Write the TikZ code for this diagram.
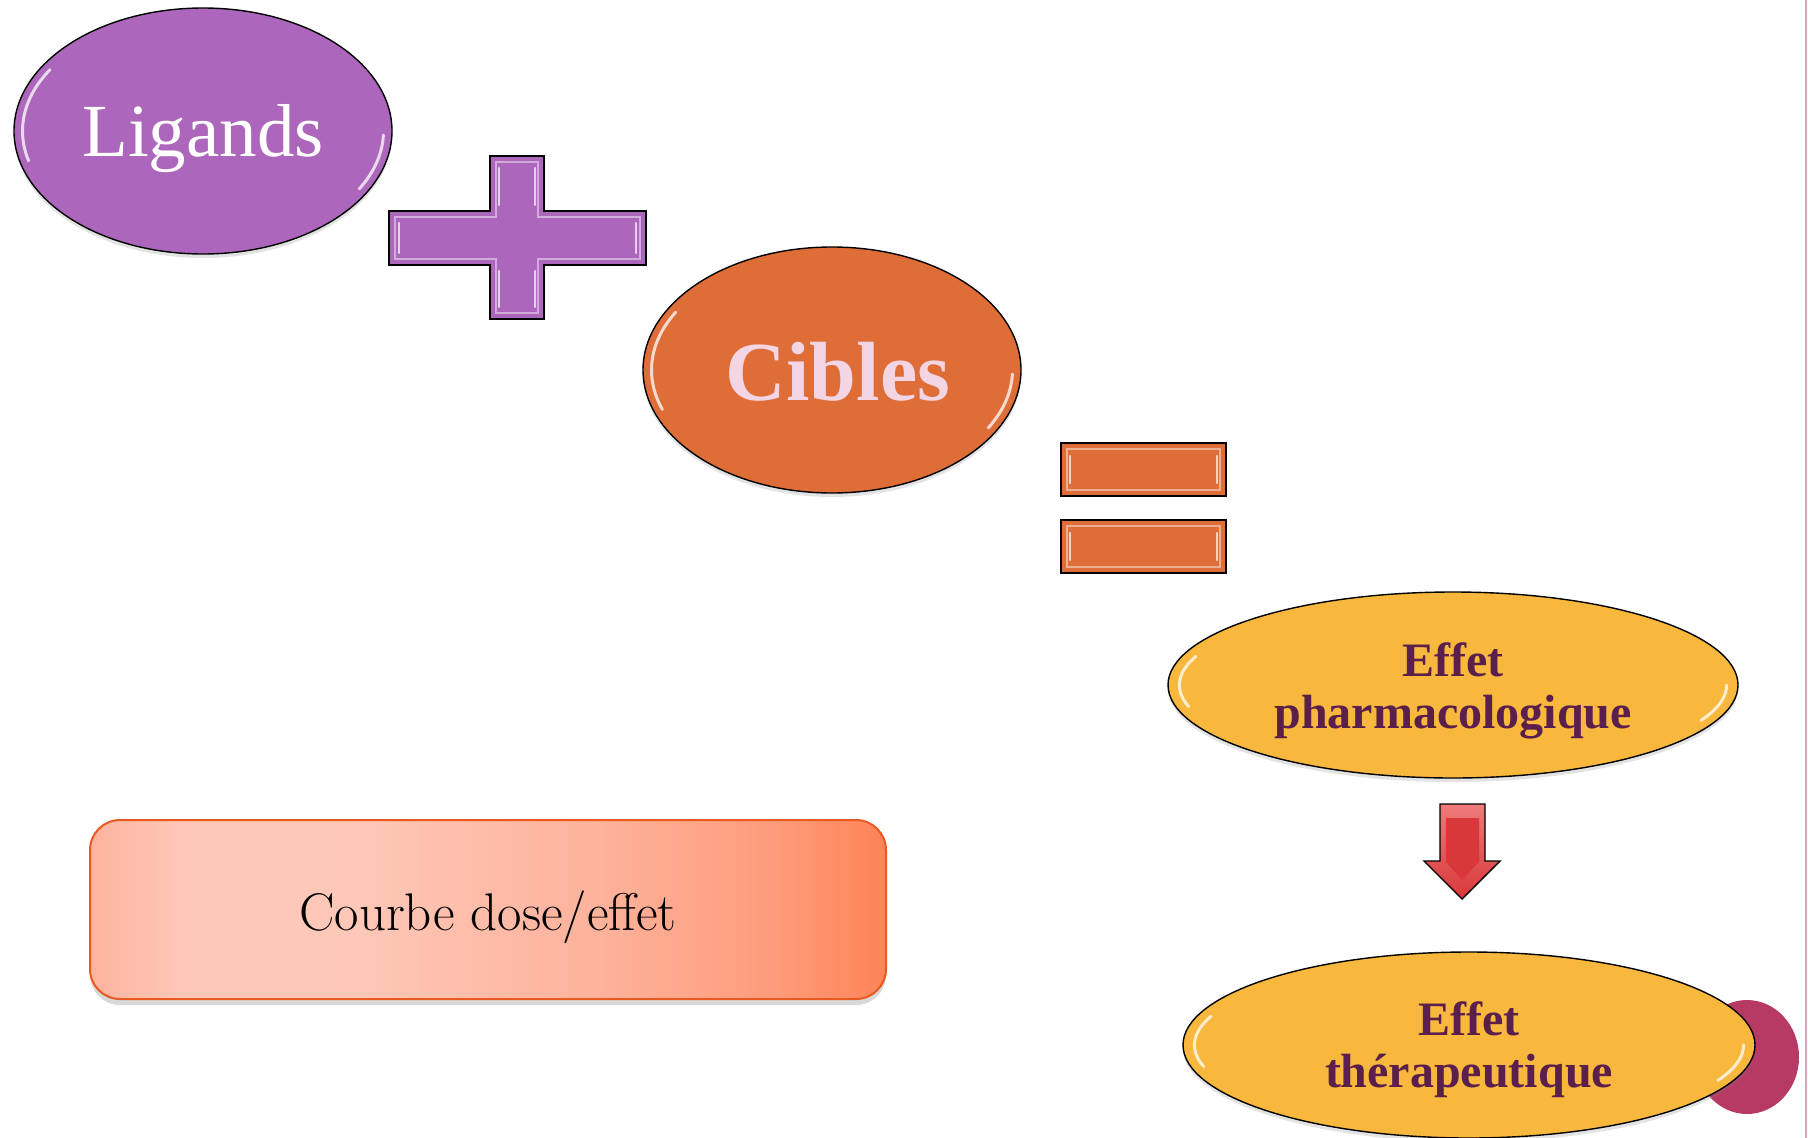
\documentclass[tikz,border=0pt]{standalone}
\usepackage{fontspec}
\newfontfamily\tnr{Liberation Serif}
\usetikzlibrary{shapes.geometric,shadows}
\definecolor{lpurple}{HTML}{AC66BB}
\definecolor{corange}{HTML}{DF6D38}
\definecolor{cpink}{HTML}{F3D5E3}
\definecolor{eyellow}{HTML}{F8B73D}
\definecolor{etext}{HTML}{5B1F4C}
\definecolor{ared}{HTML}{D8383A}
\definecolor{ared2}{HTML}{EE7A7A}
\definecolor{cmag}{HTML}{B73A65}
\definecolor{cborder}{HTML}{E85A20}
\definecolor{cA}{HTML}{FCB39D}
\definecolor{cB}{HTML}{FEC8B8}
\definecolor{cC}{HTML}{FDB29B}
\definecolor{cE}{HTML}{FE9B7A}
\definecolor{cD}{HTML}{FE8358}
\definecolor{rline}{HTML}{D4A6BF}
\pgfdeclarehorizontalshading{courbeshade}{100bp}{color(0bp)=(cA); color(25bp)=(cA); color(31bp)=(cB); color(41bp)=(cB); color(57bp)=(cC); color(68bp)=(cE); color(75bp)=(cD); color(100bp)=(cD)}
\tikzset{
  ell/.style={ellipse, draw=black, line width=1.4pt, inner sep=0pt,
    drop shadow={shadow xshift=0pt, shadow yshift=-4pt, opacity=.22}},
  hl/.style={white, opacity=.75, line width=3pt, line cap=round},
  bevelline/.style={line width=1.2pt},
  shine/.style={white, opacity=.7, line width=2.2pt, line cap=round},
  boxstyle/.style={rounded corners=30pt, draw=cborder, line width=2pt, shading=courbeshade,
    minimum width=796pt, minimum height=179pt, inner sep=0pt,
    drop shadow={shadow xshift=0pt, shadow yshift=-6pt, opacity=.3}}
}
\begin{document}
\begin{tikzpicture}[x=1pt,y=-1pt]
\path[use as bounding box] (0,0) rectangle (1808,1138);
\fill[white] (0,0) rectangle (1808,1138);

% Ligands
\node[ell, fill=lpurple, minimum width=378pt, minimum height=246pt,
  text=white, font=\tnr\fontsize{75}{80}\selectfont, text height=52pt, text depth=2pt]
  (lig) at (203,131) {Ligands};
\begin{scope}[shift={(lig.center)}]
  \draw[hl] plot[domain=165:212, samples=25] ({0.955*189*cos(\x)},{0.94*123*sin(\x)});
  \draw[hl] plot[domain=2:30, samples=25] ({0.955*189*cos(\x)},{0.94*123*sin(\x)});
\end{scope}

% Plus
\filldraw[fill=lpurple, draw=black, line width=1.4pt]
  (490,156) -- (544,156) -- (544,211) -- (646,211) -- (646,265) -- (544,265) -- (544,319)
  -- (490,319) -- (490,265) -- (389,265) -- (389,211) -- (490,211) -- cycle;
\draw[bevelline, draw=lpurple!55!white]
  (496,162) -- (538,162) -- (538,217) -- (640,217) -- (640,259) -- (538,259) -- (538,313)
  -- (496,313) -- (496,259) -- (395,259) -- (395,217) -- (496,217) -- cycle;
\draw[shine] (399,223) -- (399,253);
\draw[shine] (636,223) -- (636,253);
\draw[shine] (499,168) -- (499,205);
\draw[shine] (499,271) -- (499,307);
\draw[shine] (535,168) -- (535,205);
\draw[shine] (535,271) -- (535,307);

% Cibles
\node[ell, fill=corange, minimum width=378pt, minimum height=246pt,
  text=cpink, font=\tnr\bfseries\fontsize{84}{88}\selectfont, text height=60pt, text depth=0pt]
  (cib) at (832,370) {\hspace*{12pt}Cibles};
\begin{scope}[shift={(cib.center)}]
  \draw[hl] plot[domain=160:210, samples=25] ({0.955*189*cos(\x)},{0.94*123*sin(\x)});
  \draw[hl] plot[domain=2:30, samples=25] ({0.955*189*cos(\x)},{0.94*123*sin(\x)});
\end{scope}

% Equals
\foreach \yy in {443,520}{
  \filldraw[fill=corange, draw=black, line width=1.4pt] (1061,\yy) rectangle (1226,\yy+53);
  \draw[bevelline, draw=corange!55!white] (1067,\yy+6) rectangle (1220,\yy+47);
  \draw[shine] (1070,\yy+13) -- (1070,\yy+40);
  \draw[shine] (1217,\yy+13) -- (1217,\yy+40);
}

% Effet pharmacologique
\node[ell, fill=eyellow, minimum width=570pt, minimum height=186pt,
  text=etext, font=\tnr\bfseries\fontsize{48}{52}\selectfont, align=center]
  (pha) at (1453,685) {\rule{0pt}{45pt}Effet\\pharmacologique};
\begin{scope}[shift={(pha.center)}]
  \draw[hl] plot[domain=165:200, samples=25] ({0.96*285*cos(\x)},{0.9*93*sin(\x)});
  \draw[hl] plot[domain=0:25, samples=25] ({0.96*285*cos(\x)},{0.9*93*sin(\x)});
\end{scope}

% Red block arrow
\shade[top color=ared2, bottom color=ared, draw=black, line width=1.4pt]
  (1440,804) -- (1485,804) -- (1485,861) -- (1500,861) -- (1462,899) -- (1424,861) -- (1440,861) -- cycle;
\fill[ared] (1446,818) -- (1479,818) -- (1479,862) -- (1462,880) -- (1446,862) -- cycle;

% Magenta circle (behind)
\node[ellipse, fill=cmag, minimum width=104pt, minimum height=114pt, inner sep=0pt]
  (mag) at (1747,1057) {};

% Effet therapeutique
\node[ell, fill=eyellow, minimum width=572pt, minimum height=186pt,
  text=etext, font=\tnr\bfseries\fontsize{48}{52}\selectfont, align=center]
  (the) at (1469,1045) {\rule{0pt}{43pt}Effet\\thérapeutique};
\begin{scope}[shift={(the.center)}]
  \draw[hl] plot[domain=165:200, samples=25] ({0.96*286*cos(\x)},{0.9*93*sin(\x)});
  \draw[hl] plot[domain=0:25, samples=25] ({0.96*286*cos(\x)},{0.9*93*sin(\x)});
\end{scope}

% Courbe dose/effet
\node[boxstyle, font=\fontsize{53}{56}\selectfont, text height=42pt, text depth=0pt]
  (cde) at (488,909.5) {Courbe dose/effet};

% right edge line
\draw[rline, line width=2pt] (1806,0) -- (1806,1138);
\end{tikzpicture}
\end{document}
